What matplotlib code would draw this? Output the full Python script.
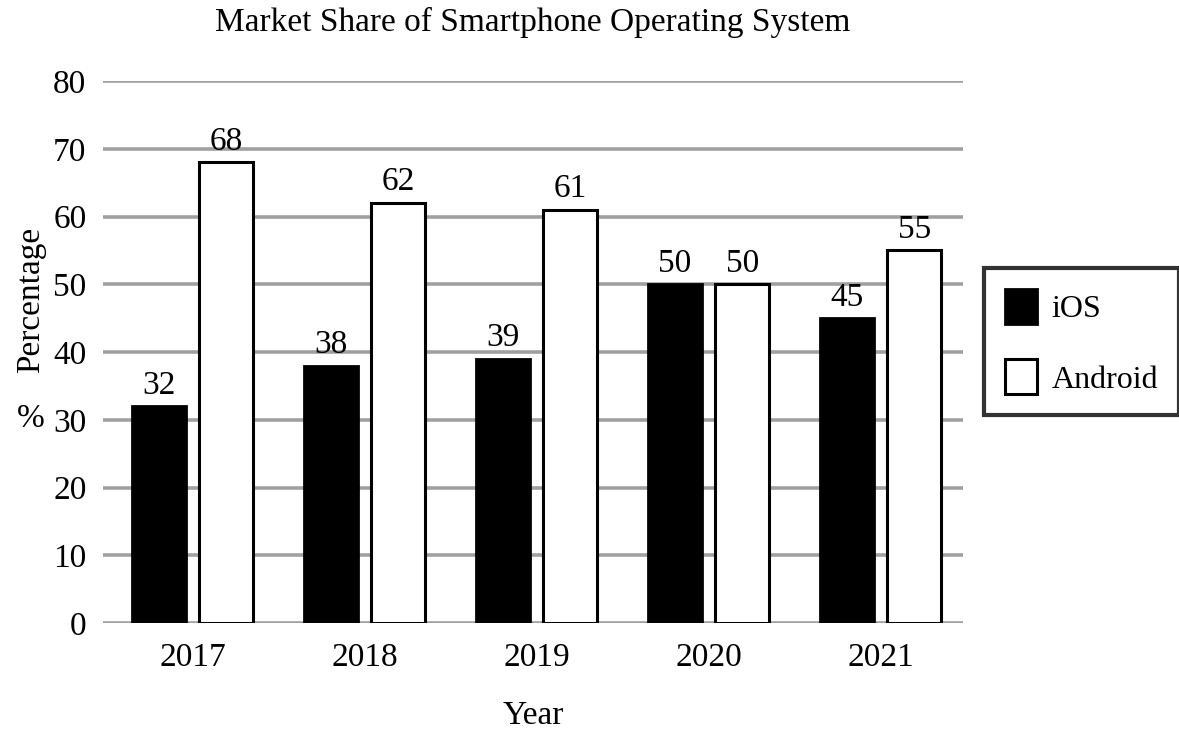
import numpy as np
import matplotlib.pyplot as plt

plt.rcParams['font.family'] = ['Liberation Serif', 'DejaVu Serif']

# Data
years = ['2017', '2018', '2019', '2020', '2021']
ios = [32, 38, 39, 50, 45]
android = [68, 62, 61, 50, 55]
yticks = [0, 10, 20, 30, 40, 50, 60, 70, 80]

fig = plt.figure(figsize=(11.79, 7.32), dpi=100)
ax = fig.add_axes([0.0874, 0.1489, 0.7294, 0.7404])

x = np.arange(len(years))
w = 0.314
off = 0.196

for yv in yticks:
    ax.axhline(yv, color='#a0a0a0', lw=2.6, zorder=0)

b1 = ax.bar(x - off, ios, w, color='black', edgecolor='black', lw=2, label='iOS', zorder=2)
b2 = ax.bar(x + off, android, w, color='white', edgecolor='black', lw=2.2, label='Android', zorder=2)

for bars in (b1, b2):
    for rect in bars:
        h = rect.get_height()
        ax.annotate(f'{h:g}', (rect.get_x() + rect.get_width() / 2, h),
                    xytext=(0, 4), textcoords='offset points',
                    ha='center', va='bottom', fontsize=24)

ax.set_xlim(-0.52, 4.48)
ax.set_ylim(0, 80)
ax.set_yticks(yticks)
ax.set_xticks(x)
ax.set_xticklabels(years)
ax.tick_params(axis='both', length=0, labelsize=24)
ax.tick_params(axis='y', pad=12)
ax.tick_params(axis='x', pad=14)
for s in ax.spines.values():
    s.set_visible(False)

ax.set_title('Market Share of Smartphone Operating System', fontsize=24, pad=36)
ax.set_xlabel('Year', fontsize=24, labelpad=20)
fig.text(0.026, 0.59, 'Percentage', rotation=90, fontsize=24, ha='center', va='center')
fig.text(0.026, 0.428, '%', fontsize=24, ha='center', va='center')

leg = fig.legend(handles=[b1, b2], labels=['iOS', 'Android'],
                 loc='center left', bbox_to_anchor=(0.835, 0.533),
                 fontsize=23, frameon=True, fancybox=False,
                 handlelength=1.0, handleheight=1.3, labelspacing=1.1,
                 borderpad=0.65, handletextpad=0.45, borderaxespad=0)
leg.get_frame().set_edgecolor('black')
leg.get_frame().set_linewidth(3)

fig.savefig('out.png', dpi=100)
